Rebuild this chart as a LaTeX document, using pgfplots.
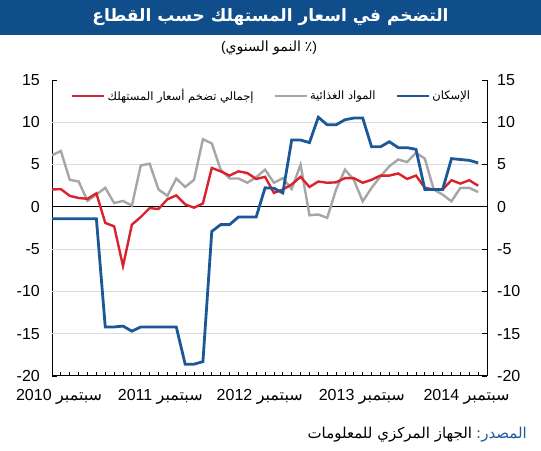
\documentclass[border=0pt]{standalone}
\usepackage{pgfplots}
\pgfplotsset{compat=1.18}
\usepackage{fontspec}
\setmainfont{Liberation Sans}
\newfontfamily\arabicfont[Script=Arabic]{DejaVu Sans}
\TeXXeTstate=1
\newcommand\ar[1]{{\arabicfont\beginR #1\endR}}
\definecolor{titlebar}{RGB}{16,78,139}
\definecolor{cblue}{RGB}{28,88,152}
\definecolor{cred}{RGB}{217,35,45}
\definecolor{cgray}{RGB}{166,166,166}
\definecolor{cgrid}{RGB}{220,220,220}
\definecolor{csrc}{RGB}{31,90,160}

\pgfplotstableread{
i red blue gray
0 2.05 -1.4 6.1
1 2.1 -1.4 6.6
2 1.3 -1.4 3.2
3 1.05 -1.4 3.0
4 0.95 -1.4 0.7
5 1.6 -1.4 1.45
6 -1.9 -14.2 2.25
7 -2.3 -14.2 0.45
8 -7.0 -14.1 0.7
9 -2.1 -14.7 0.15
10 -1.2 -14.2 4.9
11 -0.15 -14.2 5.1
12 -0.25 -14.2 2.05
13 0.9 -14.2 1.3
14 1.35 -14.2 3.35
15 0.3 -18.6 2.35
16 -0.1 -18.6 3.2
17 0.4 -18.3 8.0
18 4.6 -2.9 7.5
19 4.2 -2.1 4.4
20 3.7 -2.1 3.35
21 4.2 -1.2 3.35
22 4.0 -1.2 2.85
23 3.3 -1.2 3.5
24 3.55 2.25 4.4
25 1.65 2.2 2.85
26 2.05 1.65 3.4
27 2.65 7.9 2.1
28 3.55 7.9 5.0
29 2.35 7.6 -1.0
30 3.0 10.6 -0.9
31 2.85 9.7 -1.3
32 2.9 9.7 2.05
33 3.4 10.3 4.4
34 3.4 10.5 3.2
35 2.85 10.5 0.65
36 3.2 7.1 2.25
37 3.7 7.1 3.6
38 3.7 7.7 4.8
39 3.95 7.0 5.6
40 3.3 7.0 5.3
41 3.7 6.8 6.4
42 2.25 2.05 5.7
43 2.05 2.05 2.05
44 2.05 2.05 1.45
45 3.15 5.7 0.65
46 2.75 5.6 2.25
47 3.15 5.5 2.25
48 2.5 5.2 1.75
}\datatable

\begin{document}
\begin{tikzpicture}[x=1pt,y=1pt]
\path (0,0) rectangle (541,450);
\fill[titlebar] (0,415) rectangle (541,450);
\node[text=white, font=\fontsize{17}{21}\selectfont\bfseries] at (270.5,432.5) {\ar{التضخم في اسعار المستهلك حسب القطاع}};
\node[font=\fontsize{14}{17}\selectfont] at (269,402) {(\ar{النمو السنوي} {\arabicfont ٪})};
\node[anchor=base east, font=\fontsize{15}{18}\selectfont, inner sep=0pt] at (527,12) {\ar{الجهاز المركزي للمعلومات} \textcolor{csrc}{\ar{المصدر:}}};

\begin{axis}[
  at={(52pt,74pt)}, anchor=south west, scale only axis,
  width=435pt, height=296pt,
  xmin=0, xmax=49, ymin=-20, ymax=15,
  axis x line*=bottom, axis y line*=left,
  axis line style={black, line width=1pt},
  xtick={0.8,12.2,23.4,34.9,46.7},
  xticklabels={{2010 \ar{سبتمبر}},{2011 \ar{سبتمبر}},{2012 \ar{سبتمبر}},{2013 \ar{سبتمبر}},{2014 \ar{سبتمبر}}},
  major x tick style={draw=none},
  minor xtick={0,...,49},
  minor tick length=4pt,
  major tick length=5pt,
  tick align=inside,
  tick style={black, line width=0.8pt},
  ytick={-20,-15,...,15},
  yticklabels={-20,-15,-10,-5,0,5,10,15},
  extra y ticks={-15,-10,-5,5,10},
  extra y tick labels={},
  extra y tick style={grid=major, major tick length=0pt, grid style={cgrid, line width=1pt}},
  tick label style={font=\fontsize{16}{19}\selectfont},
  yticklabel style={inner sep=0pt, xshift=-12pt},
  xticklabel style={anchor=base, inner sep=0pt, yshift=-24pt},
  legend columns=3,
  legend style={at={(0.505,0.946)}, anchor=center, draw=none, fill=none,
    font=\fontsize{11.5}{14}\selectfont,
    nodes={inner sep=2pt},
    /tikz/every even column/.append style={column sep=18pt}},
  legend image code/.code={\draw[#1] (0pt,0pt) -- (32pt,0pt);},
]
\addlegendimage{cred, line width=2.4pt}
\addlegendentry{\ar{إجمالي تضخم أسعار المستهلك}}
\addlegendimage{cgray, line width=2.4pt}
\addlegendentry{\ar{المواد الغذائية}}
\addlegendimage{cblue, line width=2.8pt}
\addlegendentry{\ar{الإسكان}}
\draw[black, line width=1pt] (axis cs:0,0) -- (axis cs:49,0);
\addplot[cgray, line width=2.4pt, forget plot] table[x=i, y=gray] {\datatable};
\addplot[cred, line width=2.4pt, forget plot] table[x=i, y=red] {\datatable};
\addplot[cblue, line width=2.8pt, forget plot] table[x=i, y=blue] {\datatable};
\end{axis}

\begin{axis}[
  at={(52pt,74pt)}, anchor=south west, scale only axis,
  width=435pt, height=296pt,
  xmin=0, xmax=49, ymin=-20, ymax=15,
  axis x line=none, axis y line*=right,
  axis line style={black, line width=1pt},
  tick align=inside,
  major tick length=5pt,
  tick style={black, line width=0.8pt},
  ytick={-20,-15,...,15},
  yticklabels={-20,-15,-10,-5,0,5,10,15},
  tick label style={font=\fontsize{16}{19}\selectfont},
  yticklabel style={inner sep=0pt, xshift=10pt},
]
\end{axis}
\end{tikzpicture}
\end{document}
